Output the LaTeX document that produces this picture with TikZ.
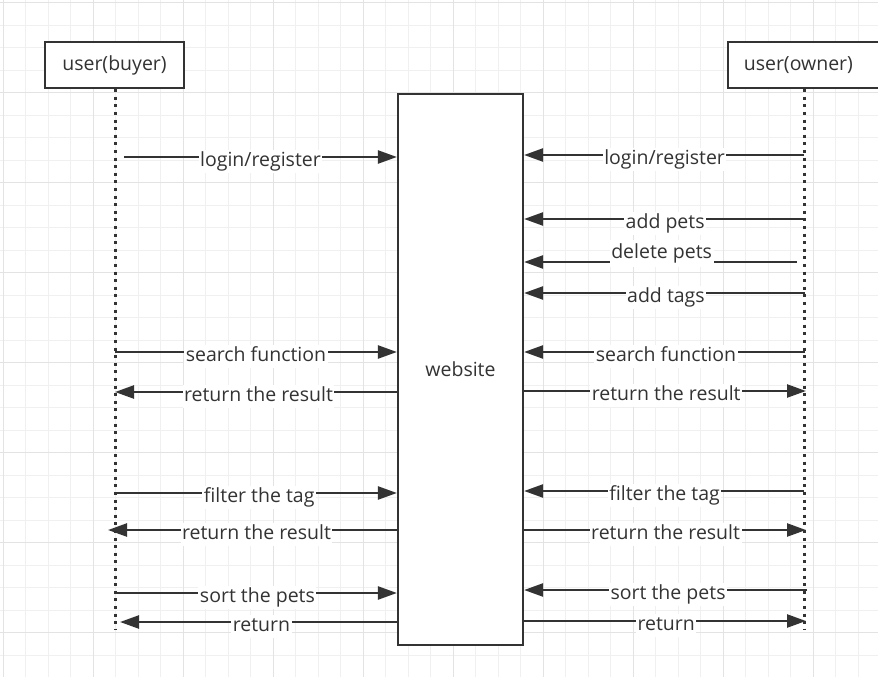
\documentclass[tikz,border=0pt]{standalone}
\usepackage{fontspec}
\setmainfont{Open Sans}
\usetikzlibrary{arrows.meta}
\definecolor{ink}{HTML}{333333}
\definecolor{gridminor}{HTML}{F0F0F0}
\definecolor{gridmajor}{HTML}{E3E3E3}
\begin{document}
\begin{tikzpicture}[x=1pt,y=-1pt,
  txt/.style={font=\fontsize{19.5}{23}\selectfont, text=ink},
  actor/.style={txt, draw=ink, line width=2.2pt, fill=white, inner sep=0pt},
  life/.style={draw=ink, line width=3pt, dash pattern=on 3pt off 4.6pt},
  msg/.style={draw=ink, line width=2.4pt, -{Triangle[length=19pt,width=13pt]}},
  lbl/.style={txt, fill=white, inner xsep=1.5pt, inner ysep=2pt, anchor=base,
    yshift=-9pt, text height=14.5pt, text depth=4.5pt},
  lblup/.style={lbl, yshift=13pt, inner ysep=4pt},
  gminor/.style={draw=gridminor, line width=1pt},
  gmajor/.style={draw=gridmajor, line width=1pt}
]
\useasboundingbox (0,0) rectangle (878,677);
\fill[white] (0,0) rectangle (878,677);
% grid
\foreach \i in {0,...,38} {\draw[gminor] ({3.3+22.5*\i},0) -- ({3.3+22.5*\i},677);}
\foreach \i in {0,...,29} {\draw[gminor] (0,{2.7+22.5*\i}) -- (878,{2.7+22.5*\i});}
\foreach \i in {0,...,9} {\draw[gmajor] ({3.3+90*\i},0) -- ({3.3+90*\i},677);}
\foreach \i in {0,...,7} {\draw[gmajor] (0,{2.7+90*\i}) -- (878,{2.7+90*\i});}

% actors
\node[actor, minimum width=139pt, minimum height=46pt] (buyer) at (114.5,65) {user(buyer)};
\node[actor, anchor=west, text width=128.6pt, inner xsep=15.7pt, align=left,
  minimum height=46pt] (owner) at (727,65) {user(owner)};
\node[actor, minimum width=125pt, minimum height=551pt] (web) at (460.5,369.5) {website};

% lifelines
\coordinate (bEnd) at (115,630);
\coordinate (oEnd) at (804,630);
\draw[life] (bEnd |- buyer.south) -- (bEnd);
\draw[life] (oEnd |- owner.south) -- (oEnd);

% buyer side
\coordinate (b1) at (124,157);
\coordinate (b2) at (115,352);
\coordinate (b3) at (115,392);
\coordinate (b4) at (117,493);
\coordinate (b5) at (108,530);
\coordinate (b6) at (114,593);
\coordinate (b7) at (120,622);
\draw[msg] (b1) -- (web.west |- b1) node[lbl, pos=0.5] {login/register};
\draw[msg] (b2) -- (web.west |- b2) node[lbl, pos=0.5] {search function};
\draw[msg] (web.west |- b3) -- (b3) node[lbl, pos=0.491] {return the result};
\draw[msg] (b4) -- (web.west |- b4) node[lbl, pos=0.508] {filter the tag};
\draw[msg] (web.west |- b5) -- (b5) node[lbl, pos=0.486] {return the result};
\draw[msg] (b6) -- (web.west |- b6) node[lbl, pos=0.507] {sort the pets};
\draw[msg] (web.west |- b7) -- (b7) node[lbl, pos=0.489] {return};

% owner side
\coordinate (o1) at (804,155);
\coordinate (o2) at (804,219);
\coordinate (o3) at (797,262);
\coordinate (o4) at (805,293);
\coordinate (o5) at (805,352);
\coordinate (o6) at (806,391);
\coordinate (o7) at (804,491);
\coordinate (o8) at (806,530);
\coordinate (o9) at (807,590);
\coordinate (o10) at (806,621);
\draw[msg] (o1) -- (web.east |- o1) node[lbl, pos=0.498] {login/register};
\draw[msg] (o2) -- (web.east |- o2) node[lbl, pos=0.496] {add pets};
\draw[msg] (o3) -- (web.east |- o3) node[lblup, pos=0.496] {delete pets};
\draw[msg] (o4) -- (web.east |- o4) node[lbl, pos=0.495] {add tags};
\draw[msg] (o5) -- (web.east |- o5) node[lbl, pos=0.495] {search function};
\draw[msg] (web.east |- o6) -- (o6) node[lbl, pos=0.504] {return the result};
\draw[msg] (o7) -- (web.east |- o7) node[lbl, pos=0.498] {filter the tag};
\draw[msg] (web.east |- o8) -- (o8) node[lbl, pos=0.502] {return the result};
\draw[msg] (o9) -- (web.east |- o9) node[lbl, pos=0.491] {sort the pets};
\draw[msg] (web.east |- o10) -- (o10) node[lbl, pos=0.504] {return};
\end{tikzpicture}
\end{document}
